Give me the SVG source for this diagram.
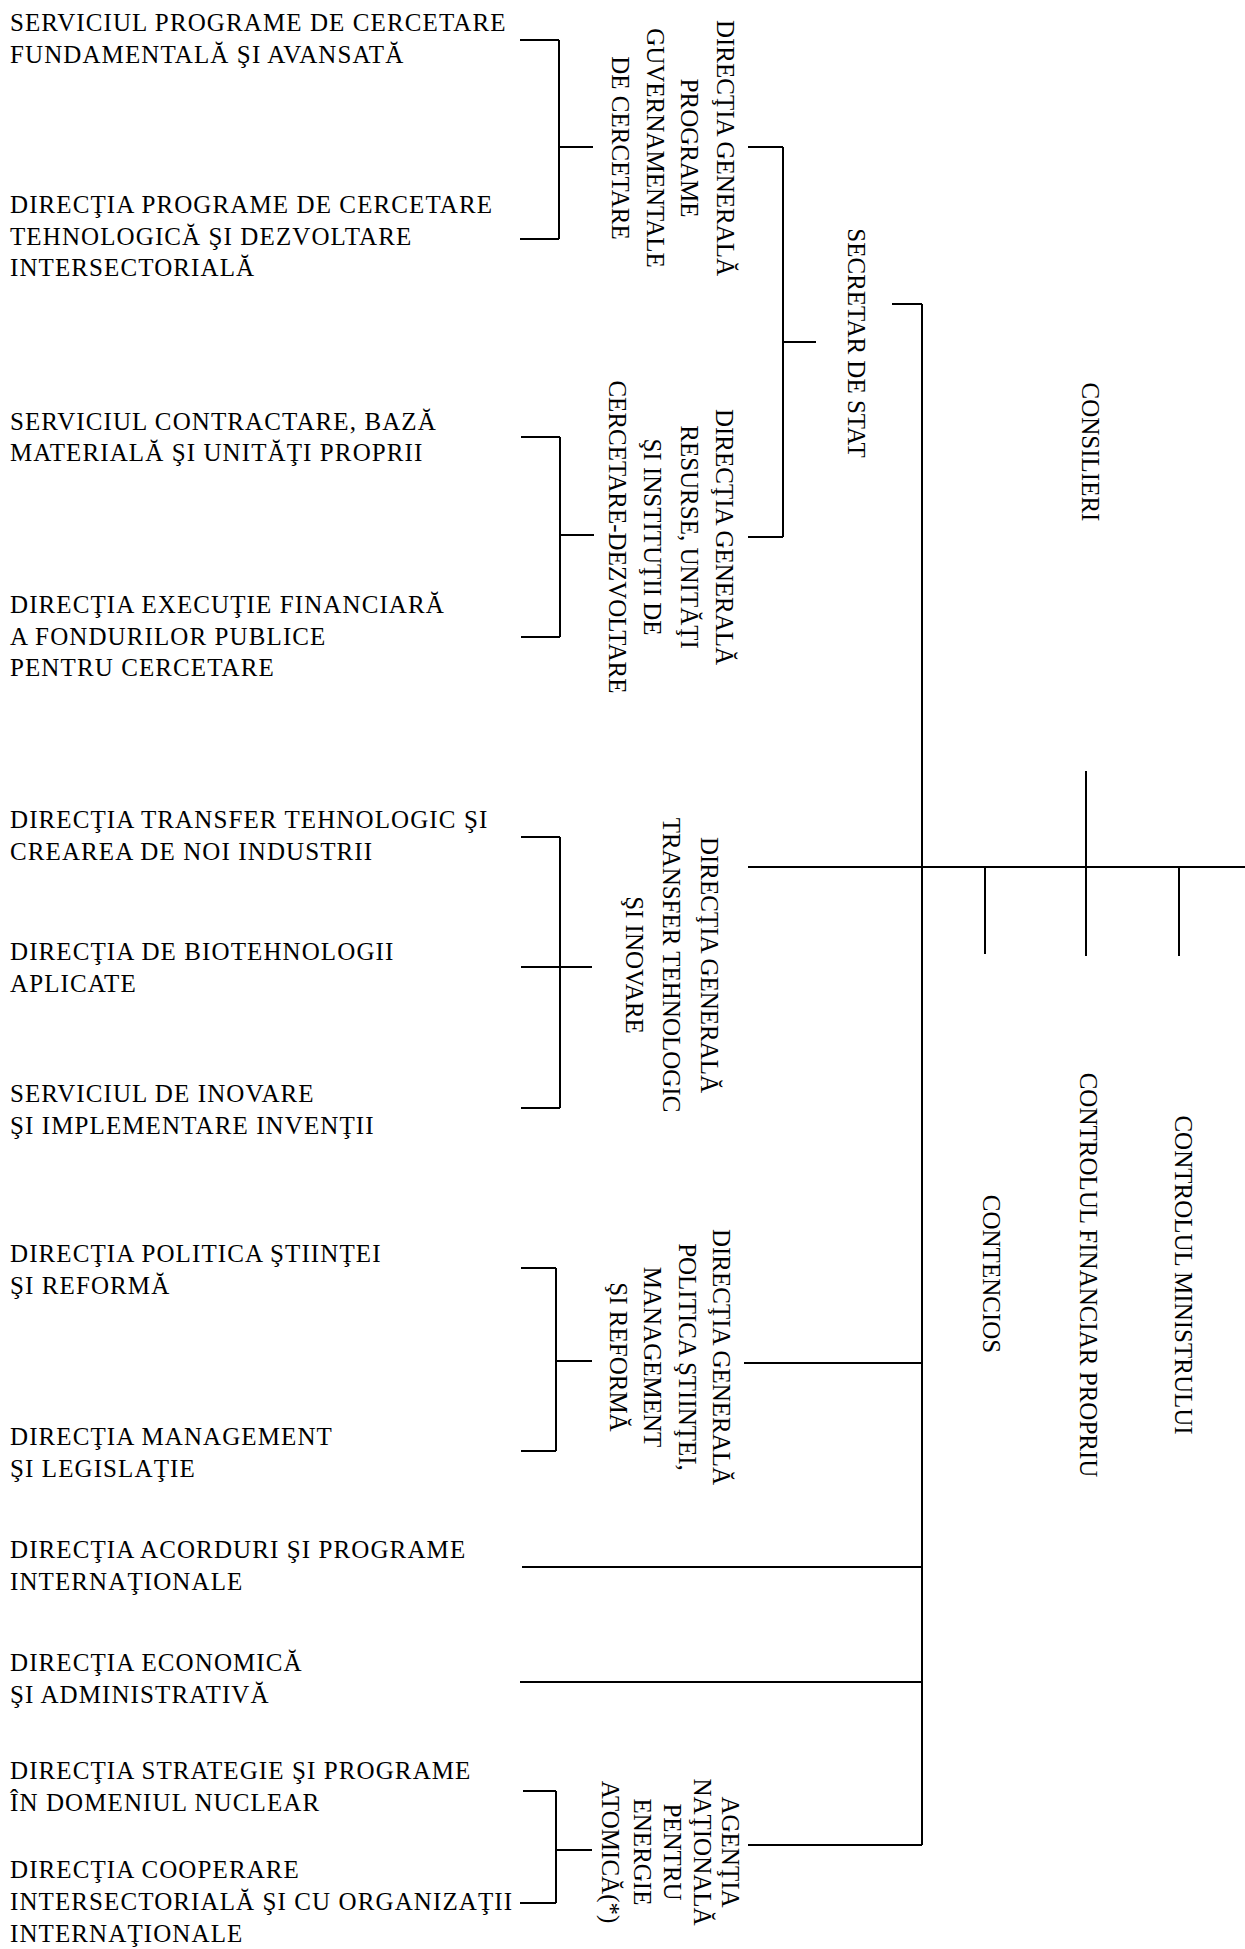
<svg xmlns="http://www.w3.org/2000/svg" width="1245" height="1949" viewBox="0 0 1245 1949">
<style>
text{font-family:"Liberation Serif","Times New Roman",serif;font-size:25px;fill:#000}
.h text{letter-spacing:1.1px}
.v{text-anchor:middle}
.c line{stroke:#000;stroke-width:2;fill:none}
</style>
<rect width="1245" height="1949" fill="#fff"/>
<g class="c" id="connectors">
<line x1="520" y1="40" x2="559" y2="40"/><line x1="559" y1="40" x2="559" y2="239"/><line x1="520" y1="239" x2="559" y2="239"/><line x1="559" y1="147" x2="593" y2="147"/>
<line x1="521" y1="437" x2="560" y2="437"/><line x1="560" y1="437" x2="560" y2="637"/><line x1="521" y1="637" x2="560" y2="637"/><line x1="560" y1="535" x2="594" y2="535"/>
<line x1="521" y1="837" x2="560" y2="837"/><line x1="560" y1="837" x2="560" y2="1108"/><line x1="521" y1="1108" x2="560" y2="1108"/><line x1="521" y1="967" x2="592" y2="967"/>
<line x1="521" y1="1268" x2="556" y2="1268"/><line x1="556" y1="1268" x2="556" y2="1451"/><line x1="521" y1="1451" x2="556" y2="1451"/><line x1="556" y1="1361" x2="592" y2="1361"/>
<line x1="523" y1="1791" x2="556" y2="1791"/><line x1="556" y1="1791" x2="556" y2="1903"/><line x1="520" y1="1903" x2="556" y2="1903"/><line x1="556" y1="1850" x2="592" y2="1850"/>
<line x1="748" y1="147" x2="783" y2="147"/><line x1="783" y1="147" x2="783" y2="537"/><line x1="748" y1="537" x2="783" y2="537"/><line x1="783" y1="342" x2="816" y2="342"/>
<line x1="892" y1="304" x2="922" y2="304"/><line x1="922" y1="304" x2="922" y2="1845"/>
<line x1="748" y1="867" x2="1245" y2="867"/>
<line x1="985" y1="867" x2="985" y2="954"/><line x1="1086" y1="771" x2="1086" y2="956"/><line x1="1179" y1="867" x2="1179" y2="956"/>
<line x1="744" y1="1363" x2="922" y2="1363"/>
<line x1="522" y1="1567" x2="922" y2="1567"/>
<line x1="520" y1="1682" x2="922" y2="1682"/>
<line x1="748" y1="1845" x2="922" y2="1845"/>
</g>
<g class="h">
<g id="serviciul-programe-fundamentala"><text x="10" y="31">SERVICIUL PROGRAME DE CERCETARE</text><text x="10" y="63">FUNDAMENTALĂ ŞI AVANSATĂ</text></g>
<g id="directia-programe-tehnologica"><text x="10" y="213">DIRECŢIA PROGRAME DE CERCETARE</text><text x="10" y="245">TEHNOLOGICĂ ŞI DEZVOLTARE</text><text x="10" y="276">INTERSECTORIALĂ</text></g>
<g id="serviciul-contractare"><text x="10" y="430">SERVICIUL CONTRACTARE, BAZĂ</text><text x="10" y="461">MATERIALĂ ŞI UNITĂŢI PROPRII</text></g>
<g id="directia-executie"><text x="10" y="613">DIRECŢIA EXECUŢIE FINANCIARĂ</text><text x="10" y="645">A FONDURILOR PUBLICE</text><text x="10" y="676">PENTRU CERCETARE</text></g>
<g id="directia-transfer"><text x="10" y="828">DIRECŢIA TRANSFER TEHNOLOGIC ŞI</text><text x="10" y="860">CREAREA DE NOI INDUSTRII</text></g>
<g id="directia-biotehnologii"><text x="10" y="960">DIRECŢIA DE BIOTEHNOLOGII</text><text x="10" y="992">APLICATE</text></g>
<g id="serviciul-inovare"><text x="10" y="1102">SERVICIUL DE INOVARE</text><text x="10" y="1134">ŞI IMPLEMENTARE INVENŢII</text></g>
<g id="directia-politica"><text x="10" y="1262">DIRECŢIA POLITICA ŞTIINŢEI</text><text x="10" y="1294">ŞI REFORMĂ</text></g>
<g id="directia-management"><text x="10" y="1445">DIRECŢIA MANAGEMENT</text><text x="10" y="1477">ŞI LEGISLAŢIE</text></g>
<g id="directia-acorduri"><text x="10" y="1558">DIRECŢIA ACORDURI ŞI PROGRAME</text><text x="10" y="1590">INTERNAŢIONALE</text></g>
<g id="directia-economica"><text x="10" y="1671">DIRECŢIA ECONOMICĂ</text><text x="10" y="1703">ŞI ADMINISTRATIVĂ</text></g>
<g id="directia-strategie"><text x="10" y="1779">DIRECŢIA STRATEGIE ŞI PROGRAME</text><text x="10" y="1811">ÎN DOMENIUL NUCLEAR</text></g>
<g id="directia-cooperare"><text x="10" y="1878">DIRECŢIA COOPERARE</text><text x="10" y="1910">INTERSECTORIALĂ ŞI CU ORGANIZAŢII</text><text x="10" y="1942">INTERNAŢIONALE</text></g>
</g>
<g id="dg-programe" class="v">
<text transform="translate(716.7,148) rotate(90)">DIRECŢIA GENERALĂ</text>
<text transform="translate(680.7,148) rotate(90)">PROGRAME</text>
<text transform="translate(646.7,148) rotate(90)">GUVERNAMENTALE</text>
<text transform="translate(611.7,148) rotate(90)">DE CERCETARE</text>
</g>
<g id="dg-resurse" class="v">
<text transform="translate(715.7,537) rotate(90)">DIRECŢIA GENERALĂ</text>
<text transform="translate(680.7,537) rotate(90)">RESURSE, UNITĂŢI</text>
<text transform="translate(643.7,537) rotate(90)">ŞI INSTITUŢII DE</text>
<text transform="translate(608.7,537) rotate(90)">CERCETARE-DEZVOLTARE</text>
</g>
<g id="secretar-de-stat" class="v"><text transform="translate(847.7,343) rotate(90)">SECRETAR DE STAT</text></g>
<g id="consilieri" class="v"><text transform="translate(1081.7,452) rotate(90)">CONSILIERI</text></g>
<g id="dg-transfer" class="v">
<text transform="translate(700.7,965) rotate(90)">DIRECŢIA GENERALĂ</text>
<text transform="translate(662.7,965) rotate(90)">TRANSFER TEHNOLOGIC</text>
<text transform="translate(625.7,965) rotate(90)">ŞI INOVARE</text>
</g>
<g id="dg-politica" class="v">
<text transform="translate(712.7,1357) rotate(90)">DIRECŢIA GENERALĂ</text>
<text transform="translate(678.7,1357) rotate(90)">POLITICA ŞTIINŢEI,</text>
<text transform="translate(643.7,1357) rotate(90)">MANAGEMENT</text>
<text transform="translate(609.7,1357) rotate(90)">ŞI REFORMĂ</text>
</g>
<g id="contencios" class="v"><text transform="translate(982.7,1274) rotate(90)">CONTENCIOS</text></g>
<g id="controlul-financiar" class="v"><text transform="translate(1079.7,1275) rotate(90)">CONTROLUL FINANCIAR PROPRIU</text></g>
<g id="controlul-ministrului" class="v"><text transform="translate(1174.7,1275) rotate(90)">CONTROLUL MINISTRULUI</text></g>
<g id="agentia" class="v">
<text transform="translate(721.7,1852) rotate(90)">AGENŢIA</text>
<text transform="translate(693.7,1852) rotate(90)">NAŢIONALĂ</text>
<text transform="translate(663.7,1852) rotate(90)">PENTRU</text>
<text transform="translate(633.7,1852) rotate(90)">ENERGIE</text>
<text transform="translate(601.7,1852) rotate(90)">ATOMICĂ(*)</text>
</g>
</svg>
